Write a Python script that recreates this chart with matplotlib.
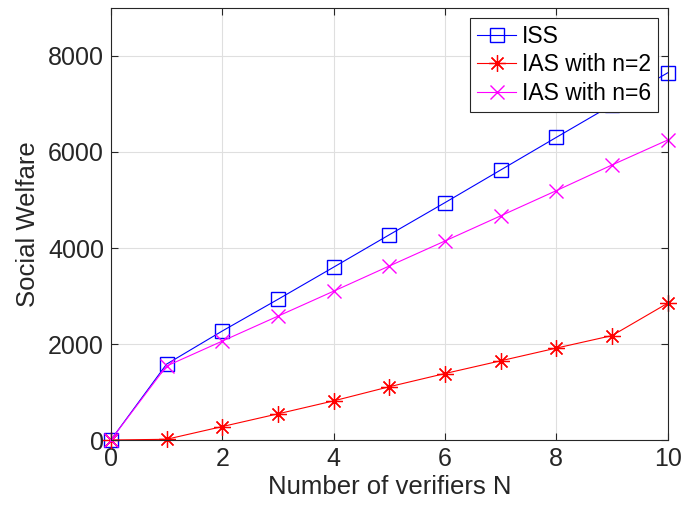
import numpy as np
import matplotlib
matplotlib.use("Agg")
import matplotlib.pyplot as plt

plt.rcParams["font.family"] = ["Liberation Sans", "DejaVu Sans"]

# ============================================================
# Data
# ============================================================

verifiers = [0, 1, 2, 3, 4, 5, 6, 7, 8, 9, 10]
iss = [0, 1580, 2270, 2930, 3600, 4275, 4945, 5625, 6305, 6980, 7650]
ias_n2 = [0, 15, 280, 545, 815, 1110, 1385, 1650, 1915, 2175, 2850]
ias_n6 = [0, 1540, 2060, 2580, 3100, 3625, 4146, 4670, 5195, 5730, 6250]

x_ticks = [0, 2, 4, 6, 8, 10]
y_ticks = [0, 2000, 4000, 6000, 8000]

# ============================================================
# Plot
# ============================================================

fig = plt.figure(figsize=(6.97, 5.12), dpi=100)
ax = fig.add_axes([0.159, 0.1406, 0.799, 0.8438])

ax.plot(verifiers, iss, color="blue", marker="s", markersize=10,
        markerfacecolor="none", linewidth=0.8, label="ISS", clip_on=False)
# MATLAB-style asterisk: 8 thin spokes
ax.plot(verifiers, ias_n2, color="red", marker=(8, 2, 0), markersize=12,
        markeredgewidth=0.9, linewidth=0.8, label="IAS with n=2",
        clip_on=False)
ax.plot(verifiers, ias_n6, color="magenta", marker="x", markersize=10,
        linewidth=0.8, label="IAS with n=6", clip_on=False)

ax.set_xlim(0, 10)
ax.set_ylim(0, 9000)
ax.set_xticks(x_ticks)
ax.set_yticks(y_ticks)

ax.grid(True, color="#dfdfdf", linewidth=0.8)
ax.set_axisbelow(True)

axis_color = "#262626"
for spine in ax.spines.values():
    spine.set_color(axis_color)
    spine.set_linewidth(0.8)
ax.tick_params(direction="in", top=True, right=True, length=5,
               colors=axis_color, labelsize=18, pad=5)

ax.set_xlabel("Number of verifiers N", fontsize=18.5, color=axis_color,
              labelpad=3)
ax.set_ylabel("Social Welfare", fontsize=18.5, color=axis_color,
              labelpad=6)

leg = ax.legend(loc="upper right", fontsize=16.5, fancybox=False,
                framealpha=1, edgecolor=axis_color, borderpad=0.3,
                handlelength=1.7, handletextpad=0.25, labelspacing=0.25,
                borderaxespad=0.43)
leg.get_frame().set_linewidth(0.8)
leg.set_zorder(10)

fig.savefig("out.png", dpi=100)
